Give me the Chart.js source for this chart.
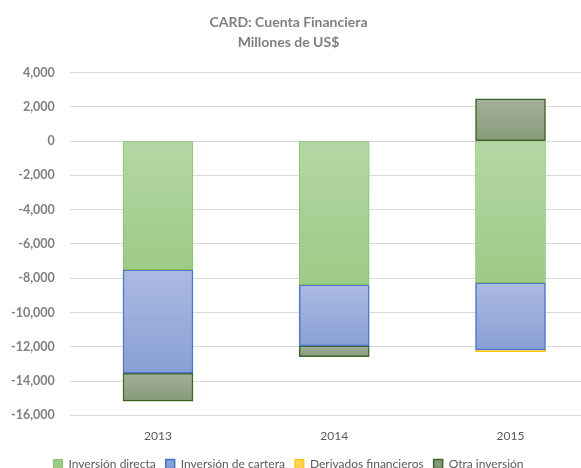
<!DOCTYPE html>
<html>
<head>
<meta charset="utf-8">
<script src="https://cdn.jsdelivr.net/npm/chart.js@4/dist/chart.umd.min.js"></script>
<style>
  html, body { margin: 0; padding: 0; background: #fff; }
  #wrap { width: 581px; height: 468px; }
</style>
</head>
<body>
<div id="wrap"><canvas id="chart"></canvas></div>
<script>
  // data (millones de US$)
  const years = ['2013', '2014', '2015'];
  const directa = [-7500, -8380, -8260];
  const cartera = [-6040, -3560, -3920];
  const derivados = [0, 0, -100];
  const otra = [-1630, -640, 2470];
  const yTicks = [4000, 2000, 0, -2000, -4000, -6000, -8000, -10000, -12000, -14000, -16000];

  const series = [directa, cartera, derivados, otra];
  const grey = '#7f7f7f';
  const font = 'Lato, "Liberation Sans", sans-serif';

  function points(arr) {
    return arr.map((v, i) => ({ x: i, y: v }));
  }

  // excel-like vertical gradient on each bar segment
  function shade(top, bottom) {
    return function (c) {
      const chart = c.chart;
      const y = chart.scales.y;
      if (!y || c.type !== 'data') return top;
      const d = c.datasetIndex, i = c.dataIndex;
      const v = series[d][i];
      let base = 0;
      for (let k = 0; k < d; k++) {
        const w = series[k][i];
        if ((w < 0) === (v < 0)) base += w;
      }
      const p1 = y.getPixelForValue(base), p2 = y.getPixelForValue(base + v);
      const y0 = Math.min(p1, p2), y1 = Math.max(p1, p2);
      if (!isFinite(y0) || y1 - y0 < 1) return top;
      const g = chart.ctx.createLinearGradient(0, y0, 0, y1);
      g.addColorStop(0, top);
      g.addColorStop(1, bottom);
      return g;
    };
  }

  const ctx = document.getElementById('chart');
  new Chart(ctx, {
    type: 'bar',
    data: {
      datasets: [
        { label: 'Inversión directa', data: points(directa), backgroundColor: shade('#b5d7a5', '#9cca87'), borderColor: '#8cc168', borderWidth: 1 },
        { label: 'Inversión de cartera', data: points(cartera), backgroundColor: shade('#acbae1', '#88a0d5'), borderColor: '#4a76c6', borderWidth: 1.5 },
        { label: 'Derivados financieros', data: points(derivados), backgroundColor: '#ffd24d', borderColor: '#ffc000', borderWidth: 1 },
        { label: 'Otra inversión', data: points(otra), backgroundColor: shade('#a5b09b', '#869a79'), borderColor: '#3f6428', borderWidth: 1.5 }
      ]
    },
    options: {
      responsive: true,
      maintainAspectRatio: false,
      animation: false,
      layout: { padding: { top: 12, right: 0, bottom: -12, left: -4 } },
      datasets: { bar: { barThickness: 70, borderSkipped: false } },
      plugins: {
        title: {
          display: true,
          text: ['CARD: Cuenta Financiera', 'Millones de US$'],
          color: grey,
          font: { family: font, size: 14, weight: 'bold', lineHeight: 1.45 },
          padding: { top: 0, bottom: 20 }
        },
        legend: {
          position: 'bottom',
          labels: {
            color: '#595959',
            font: { family: font, size: 12 },
            boxWidth: 9,
            boxHeight: 9,
            padding: 10
          }
        },
        tooltip: { enabled: false }
      },
      scales: {
        x: {
          type: 'linear',
          stacked: true,
          offset: false,
          min: -0.5,
          max: 2.4,
          grid: { display: false },
          border: { display: false },
          afterBuildTicks: (axis) => { axis.ticks = years.map((y, i) => ({ value: i })); },
          ticks: {
            color: '#595959',
            font: { family: font, size: 12, lineHeight: 1.55 },
            callback: (v) => years[v],
            maxRotation: 0,
            padding: 3
          }
        },
        y: {
          stacked: true,
          min: -16000,
          max: 4000,
          afterBuildTicks: (axis) => { axis.ticks = yTicks.map((v) => ({ value: v })); },
          grid: { color: '#d9d9d9', drawTicks: false },
          border: { display: false },
          ticks: {
            color: grey,
            font: { family: font, size: 12.5, weight: 'bold' },
            padding: 15,
            callback: (v) => v.toLocaleString('en-US')
          }
        }
      }
    }
  });
</script>
</body>
</html>
